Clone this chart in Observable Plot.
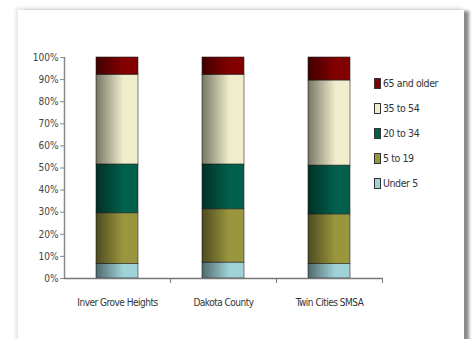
<!DOCTYPE html>
<html>
<head>
<meta charset="utf-8">
<script src="https://cdn.jsdelivr.net/npm/d3@7"></script>
<script src="https://cdn.jsdelivr.net/npm/@observablehq/plot@0.6"></script>
<style>
  html, body { margin: 0; padding: 0; background: #ffffff; width: 472px; height: 339px; overflow: hidden; }
  #card { position: absolute; left: 18px; top: 10px; width: 446px; height: 340px; background: #fff;
          box-shadow: 6px 0 3px -1px #8a8a8a, -2px -2px 4px rgba(0,0,0,0.12); }
  #chart { position: absolute; left: 0; top: 0; }
  #legend { position: absolute; left: 374px; top: 77px; font-family: "DejaVu Sans Condensed", "Liberation Sans Narrow", sans-serif;
            font-size: 10.5px; color: #333; letter-spacing: -0.4px; }
  .item { height: 25px; display: flex; align-items: flex-start; }
  .sw { width: 5px; height: 9px; border: 0.5px solid #333; margin-right: 2px; margin-top: 1px; }
  .xlab text { letter-spacing: -0.5px; }
</style>
</head>
<body>
<div id="card"></div>
<div id="chart"></div>
<div id="legend"></div>
<script>
const categories = ["Inver Grove Heights", "Dakota County", "Twin Cities SMSA"];
const seriesNames = ["Under 5", "5 to 19", "20 to 34", "35 to 54", "65 and older"];
const under5     = [6.6, 7.2, 6.5];
const age5to19   = [22.9, 24.1, 22.5];
const age20to34  = [22.1, 20.3, 22.1];
const age35to54  = [40.6, 40.6, 38.5];
const age65plus  = [7.8, 7.8, 10.4];
const yTicks = [0, 10, 20, 30, 40, 50, 60, 70, 80, 90, 100];
const colors = ["#9fd3d8", "#9a963e", "#00604b", "#efedcc", "#820000"];

const seriesValues = [under5, age5to19, age20to34, age35to54, age65plus];
const rows = [];
seriesNames.forEach((s, i) => categories.forEach((c, j) => rows.push({category: c, series: s, value: seriesValues[i][j]})));

const font = '"DejaVu Sans Condensed", "Liberation Sans Narrow", sans-serif';
const plot = Plot.plot({
  width: 472, height: 339,
  marginLeft: 64, marginRight: 89, marginTop: 57, marginBottom: 61,
  style: {fontFamily: font, fontSize: "10px", color: "#444", background: "transparent"},
  x: {domain: categories, paddingInner: 0.6, paddingOuter: 0.3, label: null},
  y: {domain: [0, 100], label: null},
  color: {domain: seriesNames, range: colors},
  marks: [
    Plot.barY(rows, Plot.stackY({x: "category", y: "value", z: "series", fill: "series", order: seriesNames, stroke: "#2a2a2a", strokeWidth: 0.6})),
    Plot.barY(rows, Plot.stackY({x: "category", y: "value", z: "series", order: seriesNames, fill: "url(#shade)"})),
    Plot.ruleY([0], {stroke: "#777", strokeWidth: 1.5}),
    Plot.ruleX([categories[0]], {dx: -53, y1: 0, y2: 100, stroke: "#888", strokeWidth: 1.5}),
    Plot.axisY({ticks: yTicks, tickSize: 4, tickPadding: 2, stroke: "#888", tickFormat: d => d + "%", className: "ylab"}),
    Plot.axisX({tickSize: 5, tickFormat: () => "", dx: 53, stroke: "#777"}),
    Plot.axisX({tickSize: 0, tickPadding: 20, fill: "#333", className: "xlab"})
  ]
});
plot.insertAdjacentHTML("afterbegin",
  '<defs><linearGradient id="shade" x1="0" x2="1" y1="0" y2="0">' +
  '<stop offset="0" stop-color="#000" stop-opacity="0.5"/>' +
  '<stop offset="0.65" stop-color="#000" stop-opacity="0"/>' +
  '<stop offset="1" stop-color="#000" stop-opacity="0"/></linearGradient></defs>');
document.getElementById("chart").appendChild(plot);

const legend = document.getElementById("legend");
seriesNames.slice().reverse().forEach((s) => {
  const i = seriesNames.indexOf(s);
  const d = document.createElement("div");
  d.className = "item";
  d.innerHTML = `<span class="sw" style="background:${colors[i]}"></span><span>${s}</span>`;
  legend.appendChild(d);
});
</script>
</body>
</html>
